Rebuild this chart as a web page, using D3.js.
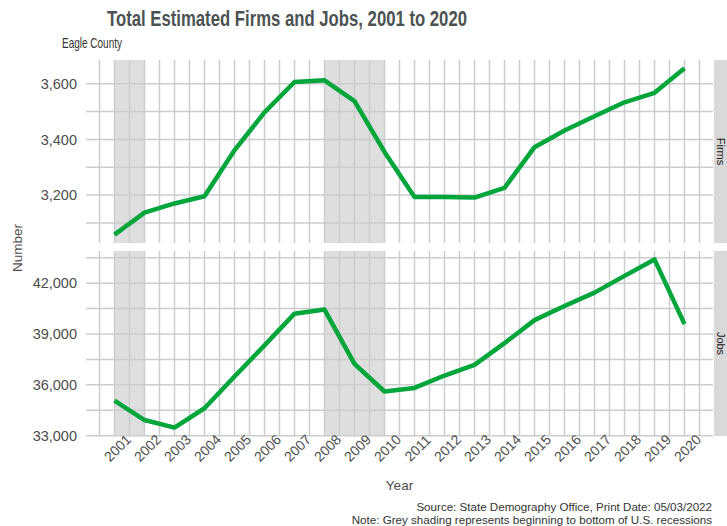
<!DOCTYPE html>
<html>
<head>
<meta charset="utf-8" />
<title>Total Estimated Firms and Jobs</title>
<style>
html, body {
    padding: 0px;
    margin: 0px;
    background: #fff;
}
svg text {
    font-family: "Liberation Sans", Arial, sans-serif;
}
</style>
</head>
<body>
<div id="chart"></div>
<script src="https://cdnjs.cloudflare.com/ajax/libs/d3/7.8.5/d3.min.js"></script>
<script>
!(function(){
    "use strict"

    var years = [2001, 2002, 2003, 2004, 2005, 2006, 2007, 2008, 2009, 2010,
                 2011, 2012, 2013, 2014, 2015, 2016, 2017, 2018, 2019, 2020];
    var firms = [3058, 3137, 3170, 3196, 3361, 3497, 3606, 3612, 3537, 3355,
                 3193, 3193, 3191, 3226, 3372, 3432, 3483, 3533, 3567, 3655];
    var jobs = [35070, 33925, 33480, 34620, 36490, 38330, 40200, 40440, 37240, 35610,
                35820, 36550, 37180, 38460, 39820, 40650, 41440, 42430, 43400, 39580];
    var recessions = [[2001, 2002], [2008, 2010]];
    var firmsTicks = [3200, 3400, 3600];
    var jobsTicks = [33000, 36000, 39000, 42000];

    var W = 727, H = 526;
    var left = 86, right = 713;
    var panels = [
        {name: "Firms", values: firms, ticks: firmsTicks, top: 60, bottom: 243},
        {name: "Jobs", values: jobs, ticks: jobsTicks, top: 251, bottom: 436}
    ];

    var svg = d3.select("#chart").append("svg")
        .attr("width", W).attr("height", H);

    // ggplot style 5% expansion
    function expand(ext) {
        var pad = (ext[1] - ext[0]) * 0.05;
        return [ext[0] - pad, ext[1] + pad];
    }

    var x = d3.scaleLinear()
        .domain(expand(d3.extent(years)))
        .range([left, right]);

    var halfYears = d3.range(2000.5, 2021, 0.5);
    var grid = "#cccccc";

    panels.forEach(function(p) {
        var y = d3.scaleLinear()
            .domain(expand(d3.extent(p.values)))
            .range([p.bottom, p.top]);
        var g = svg.append("g");

        // recession shading
        g.selectAll("rect.rec")
            .data(recessions)
            .enter().append("rect")
            .attr("x", function(d){ return x(d[0]); })
            .attr("width", function(d){ return x(d[1]) - x(d[0]); })
            .attr("y", p.top)
            .attr("height", p.bottom - p.top)
            .attr("fill", "#dedede");

        // horizontal grid, major + minor
        var step = p.ticks[1] - p.ticks[0];
        var hlines = d3.range(p.ticks[0] - step, p.ticks[p.ticks.length - 1] + step + 1, step / 2)
            .filter(function(v){ return y(v) >= p.top && y(v) <= p.bottom + 0.5; });
        g.selectAll("line.h")
            .data(hlines)
            .enter().append("line")
            .attr("x1", left).attr("x2", right)
            .attr("y1", function(d){ return y(d); })
            .attr("y2", function(d){ return y(d); })
            .attr("stroke", grid)
            .attr("stroke-width", 1.5);

        // vertical grid
        g.selectAll("line.v")
            .data(halfYears)
            .enter().append("line")
            .attr("y1", p.top).attr("y2", p.bottom)
            .attr("x1", function(d){ return x(d); })
            .attr("x2", function(d){ return x(d); })
            .attr("stroke", grid)
            .attr("stroke-width", 1.5);

        // y axis labels
        var ax = g.append("g")
            .attr("transform", "translate(" + left + ",0)")
            .call(d3.axisLeft(y).tickValues(p.ticks).tickSize(0).tickPadding(9)
                .tickFormat(d3.format(",")));
        ax.select(".domain").remove();
        ax.selectAll("text")
            .attr("fill", "#4d4d4d")
            .style("font-size", "14.5px");

        // line
        var line = d3.line()
            .x(function(d, i){ return x(years[i]); })
            .y(function(d){ return y(d); });
        g.append("path")
            .datum(p.values)
            .attr("d", line)
            .attr("fill", "none")
            .attr("stroke", "#00a53c")
            .attr("stroke-width", 4.5)
            .attr("stroke-linejoin", "round");

        // strip on the right
        g.append("rect")
            .attr("x", right + 1).attr("y", p.top)
            .attr("width", 30).attr("height", p.bottom - p.top)
            .attr("fill", "#d9d9d9");
        var cy = (p.top + p.bottom) / 2;
        g.append("text")
            .attr("transform", "translate(720.5," + cy + ") rotate(90)")
            .attr("text-anchor", "middle")
            .attr("dominant-baseline", "central")
            .attr("fill", "#1a1a1a")
            .style("font-size", "11px")
            .text(p.name);
    });

    // x axis labels
    svg.append("g").selectAll("text")
        .data(years)
        .enter().append("text")
        .attr("transform", function(d){ return "translate(" + (x(d) + 3) + ",448) rotate(-45)"; })
        .attr("text-anchor", "middle")
        .attr("dominant-baseline", "central")
        .attr("fill", "#4d4d4d")
        .style("font-size", "14px")
        .text(function(d){ return d; });

    // titles (reference uses a narrow face, so squeeze to its width)
    svg.append("text")
        .attr("x", 107).attr("y", 26)
        .attr("fill", "#4b5252")
        .attr("textLength", 360)
        .attr("lengthAdjust", "spacingAndGlyphs")
        .style("font-weight", "bold")
        .style("font-size", "22.5px")
        .text("Total Estimated Firms and Jobs, 2001 to 2020");

    svg.append("text")
        .attr("x", 62).attr("y", 48)
        .attr("fill", "#333")
        .attr("textLength", 60)
        .attr("lengthAdjust", "spacingAndGlyphs")
        .style("font-size", "14.5px")
        .text("Eagle County");

    svg.append("text")
        .attr("transform", "translate(22,248) rotate(-90)")
        .attr("text-anchor", "middle")
        .attr("fill", "#4d4d4d")
        .style("font-size", "13.5px")
        .text("Number");

    svg.append("text")
        .attr("x", (left + right) / 2).attr("y", 490)
        .attr("text-anchor", "middle")
        .attr("fill", "#4d4d4d")
        .style("font-size", "13.5px")
        .text("Year");

    var caption = ["Source: State Demography Office, Print Date: 05/03/2022",
                   "Note: Grey shading represents beginning to bottom of U.S. recessions"];
    svg.append("g").selectAll("text")
        .data(caption)
        .enter().append("text")
        .attr("x", 712)
        .attr("y", function(d, i){ return 511 + i * 12.5; })
        .attr("text-anchor", "end")
        .attr("fill", "#333")
        .style("font-size", "11.6px")
        .text(function(d){ return d; });

}());
</script>
</body>
</html>
